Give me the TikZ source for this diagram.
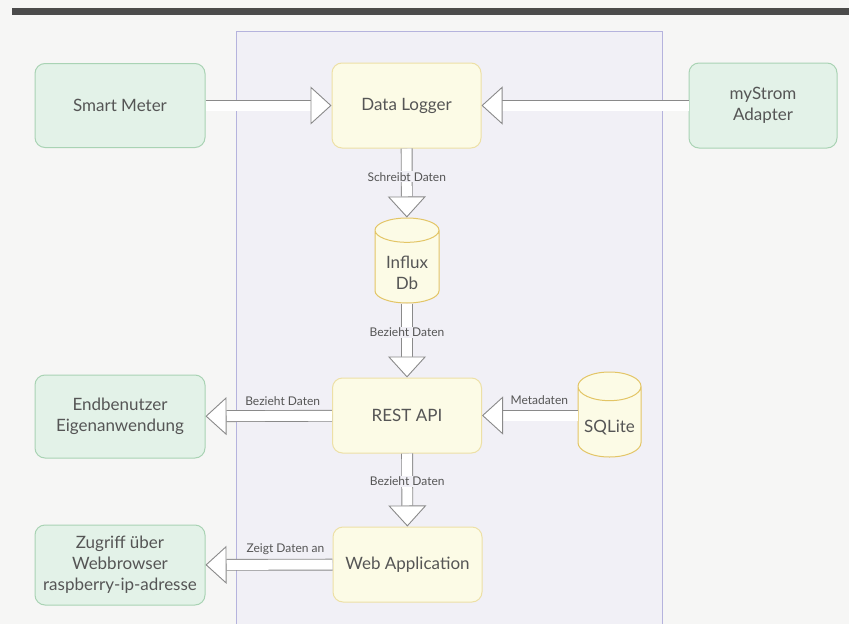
\documentclass[tikz,border=0pt]{standalone}
\usepackage{fontspec}
\setmainfont{Lato}
\usetikzlibrary{shapes.geometric}
\usetikzlibrary{arrows.meta}

\definecolor{pagegray}{HTML}{F6F6F5}
\definecolor{barcolor}{HTML}{4B4B4B}
\definecolor{framedraw}{HTML}{B5B3DD}
\definecolor{framefill}{HTML}{F1F0F6}
\definecolor{greenfill}{HTML}{E3F2E8}
\definecolor{greendraw}{HTML}{A9D3B4}
\definecolor{yellowfill}{HTML}{FCFBE6}
\definecolor{yellowdraw}{HTML}{EDE0A6}
\definecolor{dbdraw}{HTML}{E3C566}
\definecolor{textgray}{HTML}{555555}
\definecolor{arrowgray}{HTML}{8A8A8A}

\begin{document}
\begin{tikzpicture}[x=1pt,y=-1pt,
                outer node/.style={rectangle,rounded corners=10pt,fill=greenfill,draw=greendraw,line width=1pt,
                    minimum width=170pt,minimum height=84pt,align=center,text=textgray,font=\fontsize{17}{21}\selectfont},
                inner node/.style={outer node,fill=yellowfill,draw=yellowdraw,minimum width=149pt,minimum height=75pt},
                db node/.style={cylinder,shape border rotate=90,aspect=0.5,fill=yellowfill,draw=dbdraw,line width=1pt,
                    minimum width=64pt,minimum height=85pt,anchor=shape center,text height=40pt,
                    align=center,text=textgray,font=\fontsize{17}{21}\selectfont},
                flow/.style={draw=arrowgray,line width=0.9pt,double=white,double distance=10pt,
                    -{Triangle[width=38pt,length=21pt,fill=white]}},
                flow label/.style={text=textgray,font=\fontsize{12}{14}\selectfont,inner sep=1pt},
                ]
                \fill[pagegray] (0,0) rectangle (849,624);
                \useasboundingbox (0,0) rectangle (849,624);
                \fill[barcolor] (12,8) rectangle (849,15);
                \draw[framedraw,fill=framefill,line width=1pt] (236,627) -- (236,31) -- (662,31) -- (662,627);

                \node[outer node] (smart) at (120,105.5) {Smart Meter};
                \node[inner node, minimum height=85pt] (logger) at (406.5,105.5) {Data Logger};
                \node[outer node, minimum width=148pt, minimum height=85pt] (mystrom) at (763,105.5) {myStrom\\Adapter};
                \node[db node] (influx) at (407,260.5) {Influx\\Db};
                \node[inner node] (rest) at (407,415.5) {REST API};
                \node[db node, minimum width=63pt, text height=18pt] (sqlite) at (609.5,414.5) {SQLite};
                \node[outer node, minimum height=83pt] (enduser) at (120,416.5) {Endbenutzer\\Eigenanwendung};
                \node[inner node] (web) at (407.5,564.5) {Web Application};
                \node[outer node, minimum height=80pt] (browser) at (120,565) {Zugriff über\\Webbrowser\\raspberry-ip-adresse};

                \draw[flow] (smart) -- (logger);
                \draw[flow] (mystrom) -- (logger);
                \draw[flow] (logger) -- node[flow label, fill=framefill, pos=0.41] {Schreibt Daten} (influx);
                \draw[flow] (influx) -- node[flow label, fill=framefill, pos=0.39] {Bezieht Daten} (rest);
                \draw[flow] (rest) -- node[flow label, fill=framefill, pos=0.38] {Bezieht Daten} (web);
                \draw[flow] (rest) -- node[flow label, above=9pt, pos=0.39] {Bezieht Daten} (enduser);
                \draw[flow] (web) -- node[flow label, above=9pt, pos=0.37] {Zeigt Daten an} (browser);
                \draw[flow] (sqlite.west |- rest) -- node[flow label, above=9pt, pos=0.4] {Metadaten} (rest);
            \end{tikzpicture}
\end{document}
